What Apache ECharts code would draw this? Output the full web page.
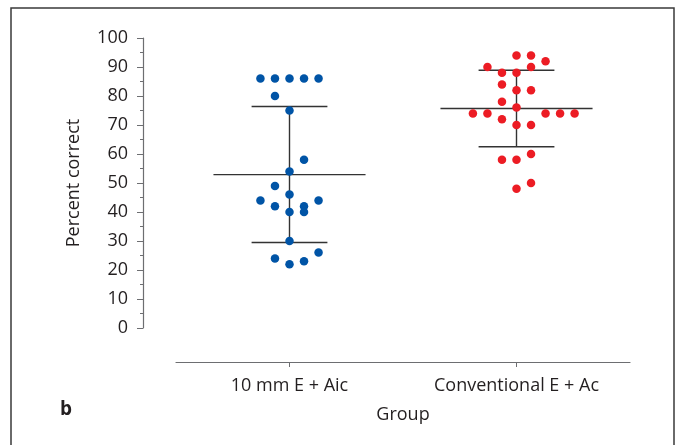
<!DOCTYPE html>
<html>
<head>
<meta charset="utf-8">
<script src="https://cdn.jsdelivr.net/npm/echarts@6/dist/echarts.min.js"></script>
<style>
  html, body { margin: 0; padding: 0; background: #fff; }
  #chart { width: 679px; height: 445px; }
</style>
</head>
<body>
<div id="chart"></div>
<script>
// groups on the x axis
const groups = ["10 mm E + Aic", "Conventional E + Ac"];

// group 1 (blue): percent correct and the swarm lane of each dot
const aicValues = [86, 86, 86, 86, 86, 80, 75, 58, 54, 49, 46, 44, 44, 42, 42, 40, 40, 30, 26, 24, 23, 22];
const aicLanes = [-2, -1, 0, 1, 2, -1, 0, 1, 0, -1, 0, -2, 2, -1, 1, 0, 1, 0, 2, -1, 1, 0];

// group 2 (red)
const acValues = [94, 94, 92, 90, 90, 88, 88, 84, 82, 82, 78, 76, 74, 74, 74, 74, 74, 72, 70, 70, 60, 58, 58, 50, 48];
const acLanes = [0, 1, 2, -2, 1, -1, 0, -1, 0, 1, -1, 0, -3, -2, 2, 3, 4, -1, 0, 1, 1, -1, 0, 1, 0];

// mean and +/- SD bars
const means = [52.9, 75.7];
const sdLow = [29.5, 62.5];
const sdHigh = [76.4, 88.9];

const laneStep = 0.064; // dot spacing in group units

function swarm(values, lanes, g) {
  return values.map((v, i) => [g + lanes[i] * laneStep, v]);
}

const chart = echarts.init(document.getElementById("chart"));
const font = "Open Sans";
const textColor = "#231f20";
const axisColor = "#6d6e71";

chart.setOption({
  animation: false,
  textStyle: { fontFamily: font },
  grid: { left: 176, right: 49, top: 38, bottom: 117 },
  xAxis: [
    {
      type: "category",
      data: groups,
      offset: 34,
      name: "Group",
      nameLocation: "middle",
      nameGap: 44,
      nameTextStyle: { fontSize: 18, color: textColor, fontFamily: font },
      axisLine: { onZero: false, lineStyle: { color: axisColor, width: 1.2 } },
      axisTick: { show: true, alignWithLabel: true, length: 5, lineStyle: { color: axisColor } },
      axisLabel: { fontSize: 18, color: textColor, margin: 15, fontFamily: font },
      splitLine: { show: false }
    },
    {
      type: "value",
      min: -0.5,
      max: 1.5,
      show: false
    }
  ],
  yAxis: {
    type: "value",
    min: 0,
    max: 100,
    interval: 10,
    offset: 33,
    name: "Percent correct",
    nameLocation: "middle",
    nameGap: 60,
    nameTextStyle: { fontSize: 18, color: textColor, fontFamily: font },
    axisLine: { show: true, onZero: false, lineStyle: { color: axisColor, width: 1.2 } },
    axisTick: { show: true, length: 6, lineStyle: { color: axisColor } },
    minorTick: { show: true, splitNumber: 2, length: 3, lineStyle: { color: axisColor } },
    axisLabel: { fontSize: 18, color: textColor, margin: 15, fontFamily: font },
    splitLine: { show: false }
  },
  graphic: [
    {
      type: "rect",
      shape: { x: 11, y: 8, width: 663, height: 460 },
      style: { fill: "none", stroke: "#3a3a3a", lineWidth: 1.5 },
      silent: true
    },
    {
      type: "text",
      left: 60,
      top: 400,
      style: { text: "b", fontSize: 19, fontWeight: "bold", fill: textColor, fontFamily: font }
    }
  ],
  series: [
    {
      type: "custom",
      xAxisIndex: 1,
      data: means.map((m, i) => [i, m, sdLow[i], sdHigh[i]]),
      renderItem: function (params, api) {
        const g = api.value(0);
        const mid = api.coord([g, api.value(1)]);
        const lo = api.coord([g, api.value(2)]);
        const hi = api.coord([g, api.value(3)]);
        const unit = api.size([1, 0])[0];
        const meanHalf = unit * 0.335;
        const capHalf = unit * 0.167;
        const style = { stroke: "#333", lineWidth: 1.4 };
        return {
          type: "group",
          children: [
            { type: "line", shape: { x1: lo[0], y1: lo[1], x2: hi[0], y2: hi[1] }, style: style },
            { type: "line", shape: { x1: mid[0] - meanHalf, y1: mid[1], x2: mid[0] + meanHalf, y2: mid[1] }, style: style },
            { type: "line", shape: { x1: hi[0] - capHalf, y1: hi[1], x2: hi[0] + capHalf, y2: hi[1] }, style: style },
            { type: "line", shape: { x1: lo[0] - capHalf, y1: lo[1], x2: lo[0] + capHalf, y2: lo[1] }, style: style }
          ]
        };
      },
      z: 1
    },
    {
      name: groups[0],
      type: "scatter",
      xAxisIndex: 1,
      data: swarm(aicValues, aicLanes, 0),
      symbolSize: 8.5,
      itemStyle: { color: "#0054a6", opacity: 1 },
      z: 2
    },
    {
      name: groups[1],
      type: "scatter",
      xAxisIndex: 1,
      data: swarm(acValues, acLanes, 1),
      symbolSize: 8.5,
      itemStyle: { color: "#ec1c24", opacity: 1 },
      z: 2
    }
  ]
});
</script>
</body>
</html>
